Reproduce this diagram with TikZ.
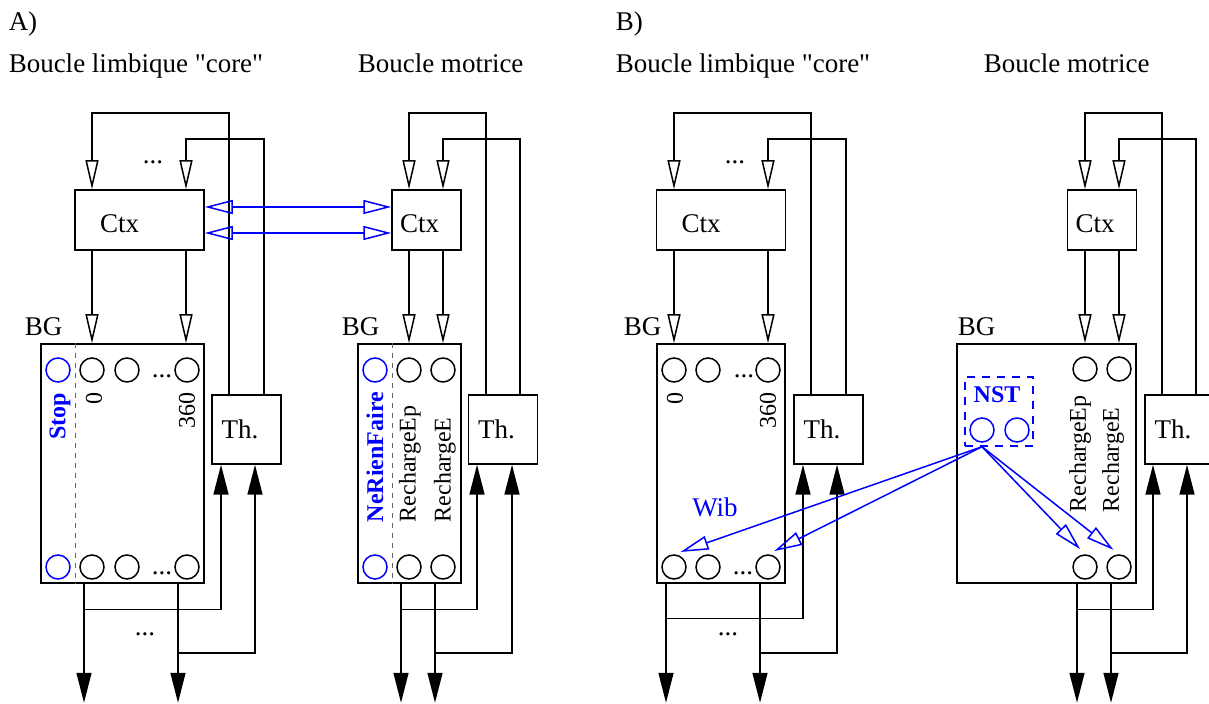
\documentclass[tikz,border=0pt]{standalone}
\usepackage{fontspec}
\setmainfont{Liberation Serif}[Ligatures=TeXOff]
\usepackage{tikz}
\usetikzlibrary{arrows.meta}
\usepackage{xcolor}
\definecolor{sigblue}{RGB}{0,0,255}

\begin{document}
\begin{tikzpicture}[x=0.5pt,y=-0.5pt,line width=0.75pt,font=\fontsize{13.5}{16}\selectfont,
  box/.style={draw,rectangle,inner sep=0pt,align=left},
  ctxbig/.style={box,minimum height=30pt,text width=39.5pt,inner xsep=12.5pt,text height=12.5pt,text depth=0pt},
  ctxsmall/.style={box,minimum height=30pt,text width=26.5pt,inner xsep=4pt,text height=12.5pt,text depth=0pt},
  thbox/.style={box,minimum height=34.5pt,text width=25pt,inner xsep=4.75pt},
  bgbox/.style={draw,rectangle,inner sep=0pt,minimum height=119.5pt},
  port/.style={draw,circle,inner sep=0pt,minimum size=12pt},
  lbl/.style={inner sep=0pt,anchor=base west},
  dots/.style={inner sep=0pt,anchor=base},
  vlbl/.style={inner sep=0pt,rotate=90,font=\fontsize{12}{14}\selectfont},
  sig/.style={text=sigblue,font=\fontsize{12}{14}\selectfont\bfseries},
  divider/.style={gray!80!black,line width=0.5pt,dash pattern=on 2.5pt off 2.5pt},
  openarr/.style={-{Triangle[open,length=14.5pt,width=6.5pt]}},
  fullarr/.style={-{Triangle[length=15pt,width=7.5pt]}},
  sigarr/.style={sigblue,-{Triangle[open,length=14pt,width=7pt]}},
  sigdbl/.style={sigblue,{Triangle[open,length=14pt,width=7pt]}-{Triangle[open,length=14pt,width=7pt]}}]
\useasboundingbox (0,0) rectangle (1209,704);
% titles
\node[lbl] (titleA) at (8,30.5) {A)};
\node[lbl] (titleAL) at (8,73) {Boucle limbique "core"};
\node[lbl] (titleAM) at (357,73) {Boucle motrice};
\node[lbl] (titleB) at (615,30.5) {B)};
\node[lbl] (titleBL) at (615,73) {Boucle limbique "core"};
\node[lbl] (titleBM) at (983,73) {Boucle motrice};

% A) limbic loop
\node[ctxbig] (ctxAL) at (139.5,220) {Ctx};
\node[bgbox,minimum width=81.5pt] (bgAL) at (122.5,463.5) {};
\node[thbox] (thAL) at (246.5,429.5) {Th.};
\node[lbl] (bgALname) at (24,336) {BG};
\draw[divider] (bgAL.north -| 75,0) -- (bgAL.south -| 75,0);
\node[port,sigblue] (alT0) at (58,370) {};
\node[port] (alT1) at (92,370) {};
\node[port] (alT2) at (127,370) {};
\node[port] (alT3) at (187,370) {};
\node[port,sigblue] (alB0) at (58,567) {};
\node[port] (alB1) at (92,567) {};
\node[port] (alB2) at (127,567) {};
\node[port] (alB3) at (187,567) {};
\node[dots] (alTdots) at (162,378) {...};
\node[dots] (alBdots) at (162,575) {...};
\node[vlbl,sig,anchor=east] (alStop) at (60,392) {Stop};
\node[vlbl,anchor=east] (alZero) at (94,392) {0};
\node[vlbl,anchor=east] (alEnd) at (187,392) {360};
\node[dots] (alInDots) at (153,164) {...};
\node[dots] (alOutDots) at (145,635) {...};
\draw[openarr] (thAL.north -| 229,0) |- (92,113) -- (ctxAL.north -| 92,0);
\draw[openarr] (thAL.north -| 264,0) |- (186,139) -- (ctxAL.north -| 186,0);
\draw[openarr] (ctxAL.south -| 92,0) -- (bgAL.north -| 92,0);
\draw[openarr] (ctxAL.south -| 186,0) -- (bgAL.north -| 186,0);
\draw[fullarr] (bgAL.south -| 84,0) -- ++(0,119);
\draw[fullarr] (bgAL.south -| 178,0) -- ++(0,119);
\draw[fullarr] (bgAL.south -| 84,0) ++(0,26) -| (thAL.south -| 221,0);
\draw[fullarr] (bgAL.south -| 178,0) ++(0,69) -| (thAL.south -| 255,0);

% A) motor loop
\node[ctxsmall] (ctxAM) at (426.5,220) {Ctx};
\node[bgbox,minimum width=51.5pt] (bgAM) at (409.5,463.5) {};
\node[thbox] (thAM) at (503,429.5) {Th.};
\node[lbl] (bgAMname) at (341,336) {BG};
\draw[divider] (bgAM.north -| 392,0) -- (bgAM.south -| 392,0);
\node[port,sigblue] (amT0) at (375,370) {};
\node[port] (amT1) at (409,370) {};
\node[port] (amT2) at (443,370) {};
\node[port,sigblue] (amB0) at (375,567) {};
\node[port] (amB1) at (409,567) {};
\node[port] (amB2) at (443,567) {};
\node[vlbl,sig,anchor=west] (amNop) at (375,523) {NeRienFaire};
\node[vlbl,anchor=west] (amRep) at (410,523) {RechargeEp};
\node[vlbl,anchor=west] (amRe) at (445,523) {RechargeE};
\draw[openarr] (thAM.north -| 486,0) |- (409,113) -- (ctxAM.north -| 409,0);
\draw[openarr] (thAM.north -| 520,0) |- (443,139) -- (ctxAM.north -| 443,0);
\draw[openarr] (ctxAM.south -| 409,0) -- (bgAM.north -| 409,0);
\draw[openarr] (ctxAM.south -| 443,0) -- (bgAM.north -| 443,0);
\draw[fullarr] (bgAM.south -| 401,0) -- ++(0,119);
\draw[fullarr] (bgAM.south -| 435,0) -- ++(0,119);
\draw[fullarr] (bgAM.south -| 401,0) ++(0,26) -| (thAM.south -| 477,0);
\draw[fullarr] (bgAM.south -| 435,0) ++(0,69) -| (thAM.south -| 512,0);

% cortical links
\draw[sigdbl] (ctxAL.east |- 0,207) -- (ctxAM.west |- 0,207);
\draw[sigdbl] (ctxAL.east |- 0,233) -- (ctxAM.west |- 0,233);

% B) limbic loop
\node[ctxbig] (ctxBL) at (721,220) {Ctx};
\node[bgbox,minimum width=64pt] (bgBL) at (721,463.5) {};
\node[thbox] (thBL) at (828.5,429.5) {Th.};
\node[lbl] (bgBLname) at (623,336) {BG};
\node[port] (blT1) at (674,370) {};
\node[port] (blT2) at (708,370) {};
\node[port] (blT3) at (768,370) {};
\node[port] (blB1) at (674,567) {};
\node[port] (blB2) at (708,567) {};
\node[port] (blB3) at (768,567) {};
\node[dots] (blTdots) at (744,378) {...};
\node[dots] (blBdots) at (743,575) {...};
\node[vlbl,anchor=east] (blZero) at (675,392) {0};
\node[vlbl,anchor=east] (blEnd) at (768,392) {360};
\node[text=sigblue,inner sep=0pt] (blWib) at (715,507) {Wib};
\node[dots] (blInDots) at (735,164) {...};
\node[dots] (blOutDots) at (728,635) {...};
\draw[openarr] (thBL.north -| 811,0) |- (674,113) -- (ctxBL.north -| 674,0);
\draw[openarr] (thBL.north -| 846,0) |- (768,139) -- (ctxBL.north -| 768,0);
\draw[openarr] (ctxBL.south -| 674,0) -- (bgBL.north -| 674,0);
\draw[openarr] (ctxBL.south -| 768,0) -- (bgBL.north -| 768,0);
\draw[fullarr] (bgBL.south -| 666,0) -- ++(0,119);
\draw[fullarr] (bgBL.south -| 760,0) -- ++(0,119);
\draw[fullarr] (bgBL.south -| 666,0) ++(0,35) -| (thBL.south -| 803,0);
\draw[fullarr] (bgBL.south -| 760,0) ++(0,69) -| (thBL.south -| 837,0);

% B) motor loop
\node[ctxsmall] (ctxBM) at (1102,220) {Ctx};
\node[bgbox,minimum width=89.5pt] (bgBM) at (1046.5,463.5) {};
\node[thbox] (thBM) at (1179.5,429.5) {Th.};
\node[lbl] (bgBMname) at (957,336) {BG};
\node[port] (bmT1) at (1085,369) {};
\node[port] (bmT2) at (1119,369) {};
\node[port] (bmB1) at (1085,567) {};
\node[port] (bmB2) at (1119,567) {};
\node[draw=sigblue,dash pattern=on 4pt off 3.5pt,inner sep=0pt,minimum width=34pt,minimum height=34.5pt] (nst) at (999,411.5) {};
\node[sig,inner sep=0pt] (nstName) at (997,395) {NST};
\node[port,sigblue] (nstA) at (982,430) {};
\node[port,sigblue] (nstB) at (1017,430) {};
\node[vlbl,anchor=west] (bmRep) at (1080,513) {RechargeEp};
\node[vlbl,anchor=west] (bmRe) at (1113,513) {RechargeE};
\draw[openarr] (thBM.north -| 1162,0) |- (1085,113) -- (ctxBM.north -| 1085,0);
\draw[openarr] (thBM.north -| 1196,0) |- (1119,139) -- (ctxBM.north -| 1119,0);
\draw[openarr] (ctxBM.south -| 1085,0) -- (bgBM.north -| 1085,0);
\draw[openarr] (ctxBM.south -| 1119,0) -- (bgBM.north -| 1119,0);
\draw[fullarr] (bgBM.south -| 1077,0) -- ++(0,119);
\draw[fullarr] (bgBM.south -| 1111,0) -- ++(0,119);
\draw[fullarr] (bgBM.south -| 1077,0) ++(0,26) -| (thBM.south -| 1153,0);
\draw[fullarr] (bgBM.south -| 1111,0) ++(0,69) -| (thBM.south -| 1187,0);

% NST signals
\draw[sigarr,shorten >=3.5pt] (nst.south -| nstA) -- (blB1.north);
\draw[sigarr,shorten >=3.5pt] (nst.south -| nstA) -- (blB3.north);
\draw[sigarr,shorten >=3.5pt] (nst.south -| nstA) -- (bmB1.north);
\draw[sigarr,shorten >=3.5pt] (nst.south -| nstA) -- (bmB2.north);
\end{tikzpicture}
\end{document}
